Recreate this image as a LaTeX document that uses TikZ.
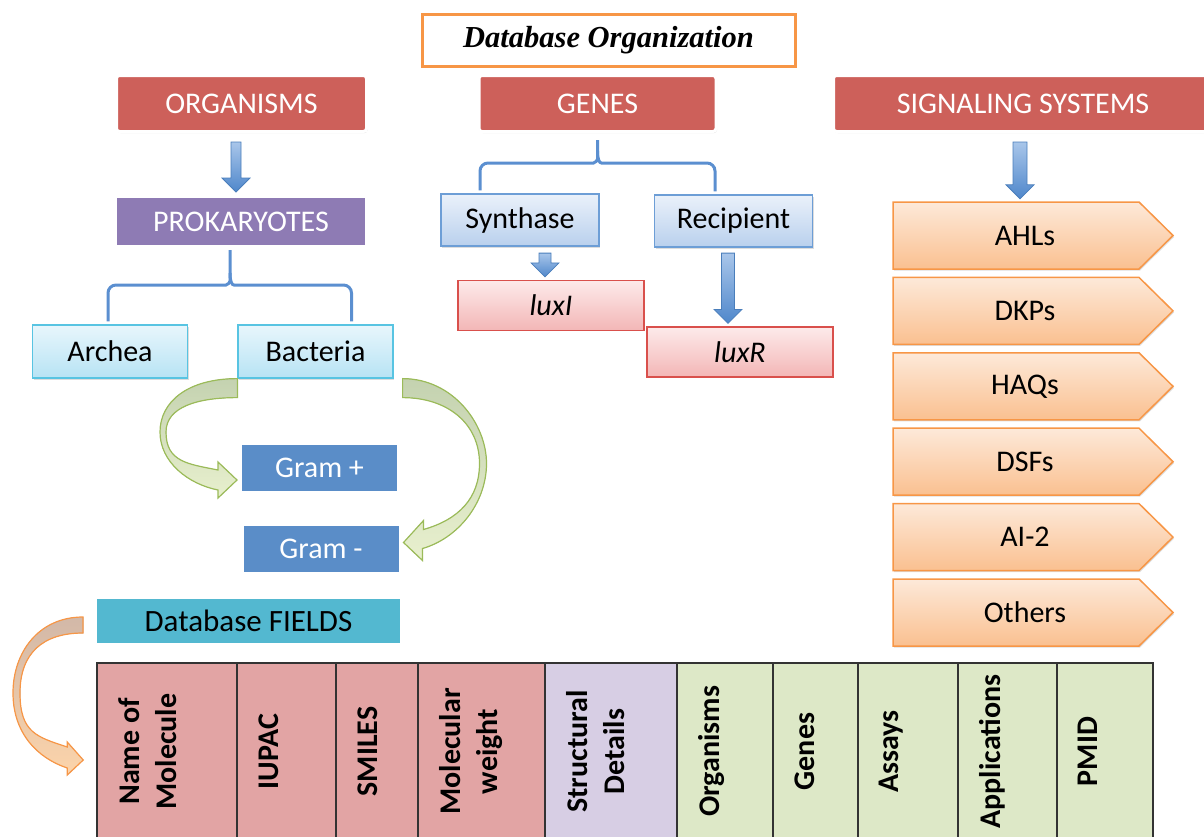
\documentclass[tikz,border=0pt]{standalone}
\usepackage{fontspec}
\setmainfont{Carlito}
\newfontfamily\titlefont{Liberation Serif}
\usetikzlibrary{calc,shadows}

\definecolor{hdred}{RGB}{205,96,90}
\definecolor{prkpurple}{RGB}{142,123,180}
\definecolor{archtop}{RGB}{232,246,252}
\definecolor{archbot}{RGB}{183,227,244}
\definecolor{archline}{RGB}{88,196,226}
\definecolor{syntop}{RGB}{234,241,250}
\definecolor{synbot}{RGB}{185,208,237}
\definecolor{synline}{RGB}{109,158,214}
\definecolor{luxtop}{RGB}{253,234,234}
\definecolor{luxbot}{RGB}{243,182,182}
\definecolor{luxline}{RGB}{217,80,76}
\definecolor{grblue}{RGB}{90,141,200}
\definecolor{fldteal}{RGB}{83,184,208}
\definecolor{pentop}{RGB}{253,233,217}
\definecolor{penbot}{RGB}{250,192,144}
\definecolor{penline}{RGB}{247,150,70}
\definecolor{arrtop}{RGB}{169,198,234}
\definecolor{arrbot}{RGB}{79,135,203}
\definecolor{arrline}{RGB}{74,126,187}
\definecolor{bracecol}{RGB}{91,143,208}
\definecolor{grntop}{RGB}{196,210,176}
\definecolor{grnbot}{RGB}{232,240,206}
\definecolor{grnline}{RGB}{155,187,89}
\definecolor{oratop}{RGB}{210,184,168}
\definecolor{orabot}{RGB}{252,212,170}
\definecolor{tabred}{RGB}{226,164,164}
\definecolor{tabpurple}{RGB}{215,206,228}
\definecolor{tabgreen}{RGB}{221,232,199}

\newcommand{\bigtxt}{\fontsize{30}{37}\selectfont}

\newcommand{\blockarrow}[3]{%
  \draw[bluearr] ($(#1)+(-#3,0)$) -- ($(#1 |- #2)+(-#3,-17)$) -- ($(#1 |- #2)+(-14,-17)$)
    -- ($(#1 |- #2)+(0,-3)$) -- ($(#1 |- #2)+(14,-17)$) -- ($(#1 |- #2)+(#3,-17)$)
    -- ($(#1)+(#3,0)$) -- cycle;}

\tikzset{
  boxshadow/.style={drop shadow={shadow xshift=1pt, shadow yshift=-1.5pt, opacity=.22, fill=black!60}},
  titlebox/.style={rectangle, draw=penline, line width=3, fill=white, minimum width=373, minimum height=52},
  header/.style={rectangle, rounded corners=3, fill=hdred, draw=white, line width=3, text=white,
    minimum height=56, font=\bigtxt, boxshadow},
  lightbox/.style={rectangle, top color=archtop, bottom color=archbot, draw=archline, line width=1.2,
    minimum width=155, minimum height=53, font=\bigtxt, boxshadow},
  synbox/.style={rectangle, top color=syntop, bottom color=synbot, draw=synline, line width=1.2,
    minimum width=158, minimum height=52, font=\bigtxt, boxshadow},
  luxbox/.style={rectangle, top color=luxtop, bottom color=luxbot, draw=luxline, line width=1.2,
    minimum width=186, minimum height=50, font=\bigtxt\itshape},
  grambox/.style={rectangle, fill=grblue, draw=white, line width=4, text=white,
    minimum width=159, minimum height=50, font=\bigtxt, boxshadow},
  fieldcol/.style={rectangle, draw=black!80, line width=1.5, minimum height=177},
  fieldtxt/.style={font=\bigtxt\bfseries, align=center, inner sep=0, rotate=90, anchor=north},
  sigbody/.style={minimum width=264, minimum height=67, inner sep=0, font=\bigtxt},
  pent/.style={top color=pentop, bottom color=penbot, draw=penline, line width=1.5, boxshadow},
  bluearr/.style={top color=arrtop, bottom color=arrbot, draw=arrline, line width=.8},
  brace/.style={draw=bracecol, line width=3, rounded corners=8},
  greenarr/.style={top color=grntop, bottom color=grnbot, draw=grnline, line width=1.2},
  orangearr/.style={top color=oratop, bottom color=orabot, draw=penline, line width=1.2}
}

\begin{document}
\begin{tikzpicture}[x=1pt,y=-1pt]
\useasboundingbox (0,0) rectangle (1204,836);
\clip (0,0) rectangle (1204,836);

\node[titlebox] (title) at (608.5,40) {\fontsize{30.5}{36}\selectfont\titlefont\bfseries\itshape Database Organization};

\node[header, minimum width=250] (org) at (241.5,103.5) {ORGANISMS};
\node[header, minimum width=237] (genes) at (597.5,103.5) {GENES};
\node[header, minimum width=379] (sig) at (1023,103.5) {SIGNALING SYSTEMS};

% organisms
\node[header, fill=prkpurple, rounded corners=0, minimum width=251, minimum height=50] (prok) at (241,221.5) {PROKARYOTES};
\node[lightbox] (arch) at (110,351.5) {Archea};
\node[lightbox] (bact) at (315.5,351.5) {Bacteria};
\node[grambox] (gplus) at (319.5,468) {Gram +};
\node[grambox] (gminus) at (321,548.5) {Gram -};

% genes
\node[synbox] (syn) at (520,220) {Synthase};
\node[synbox] (rec) at (733.5,221) {Recipient};
\node[luxbox] (luxi) at (551,305.5) {luxI};
\node[luxbox] (luxr) at (740,352) {luxR};

% signaling systems
\foreach \t [count=\i] in {AHLs,DKPs,HAQs,DSFs,AI-2,Others} {
  \coordinate (p\i) at (893,{202+75.4*(\i-1)});
  \filldraw[pent] (p\i) -- ++(246,0) -- ++(34,33.5) -- ++(-34,33.5) -- ++(-246,0) -- cycle;
  \node[sigbody] (s\i) at ($(p\i)+(132,33.5)$) {\t};
}

\coordinate (a1) at ($(org.south)+(-5.5,9)$);
\coordinate (a2) at ($(syn.south)+(25,6.5)$);
\coordinate (a3) at ($(rec.south)+(-5.5,5.5)$);
\coordinate (a4) at ($(sig.south)+(-3,9)$);
\blockarrow{a1}{prok.north}{5}
\blockarrow{a2}{luxi.north}{6}
\blockarrow{a3}{luxr.north}{6.5}
\blockarrow{a4}{s1.north}{7}

\draw[brace] ($(arch.north)+(-2,-3)$) |- ($(prok.south)+(-23,37)$) .. controls +(10,0) and +(0,9) .. ($(prok.south)+(-11,25)$) -- ($(prok.south)+(-11,2)$);
\draw[brace] ($(prok.south)+(-11,25)$) .. controls +(0,9) and +(-10,0) .. ($(prok.south)+(1,37)$) -| ($(bact.north)+(36,-3)$);
\draw[brace] ($(syn.north)+(-40,-3)$) |- ($(genes.south)+(-12,30)$) .. controls +(10,0) and +(0,9) .. ($(genes.south)+(0,18)$) -- ($(genes.south)+(0,7)$);
\draw[brace] ($(genes.south)+(0,18)$) .. controls +(0,9) and +(-10,0) .. ($(genes.south)+(12,30)$) -| ($(rec.north)+(-18.5,-3)$);

\filldraw[greenarr] (bact.south west) .. controls +(-50,0) and +(0,-30) .. ($(gplus.west)+(-78,-36)$)
  .. controls +(0,30) and +(-30,-6) .. ($(gplus.west)+(-20,22)$) -- ++(0,8) -- ($(gplus.west)+(-1,12)$)
  -- ++(-19,-18) -- ++(0,8) .. controls +(-30,-6) and +(0,30) .. ($(gplus.west)+(-72,-36)$)
  .. controls +(0,-25) and +(-40,0) .. ($(bact.south west)+(0,19)$) -- cycle;
\filldraw[greenarr] ($(bact.south east)+(9,0)$) .. controls +(50,0) and +(0,-40) .. ($(gminus.east)+(84,-85)$)
  .. controls +(0,40) and +(35,-10) .. ($(gminus.east)+(20,0)$) -- ++(0,12) -- ($(gminus.east)+(1,-6)$)
  -- ++(20,-22) -- ++(0,9) .. controls +(35,-10) and +(0,35) .. ($(gminus.east)+(77,-85)$)
  .. controls +(0,-40) and +(45,0) .. ($(bact.south east)+(9,19)$) -- cycle;

% database fields
\node[header, fill=fldteal, text=black, rounded corners=0, minimum width=306, minimum height=47, font=\fontsize{31}{37}\selectfont] (fields) at (248.5,621) {Database FIELDS};

\foreach \xl/\xr/\col/\txt [count=\i] in {97/237/tabred/{Name of\\Molecule}, 237/336/tabred/IUPAC,
    336/418/tabred/SMILES, 418/545/tabred/{Molecular\\weight}, 545/677/tabpurple/{Structural\\Details},
    677/773/tabgreen/Organisms, 773/858/tabgreen/Genes, 858/958/tabgreen/Assays,
    958/1057/tabgreen/Applications, 1057/1153/tabgreen/PMID} {
  \node[fieldcol, fill=\col, minimum width={\xr-\xl}] (f\i) at ({(\xl+\xr)/2},751.5) {};
  \node[fieldtxt] (t\i) at ($(f\i.west)+(22,0)$) {\txt};
}

\filldraw[orangearr] ($(fields.west)+(-11,-4)$) .. controls +(-45,0) and +(0,-40) .. ($(fields.west)+(-81,72)$)
  .. controls +(0,40) and +(-30,-10) .. ($(f1.west)+(-29,16.5)$) -- ++(0,7) -- ($(f1.west)+(-13,8.5)$)
  -- ++(-16,-18) -- ++(0,5) .. controls +(-30,-10) and +(0,40) .. ($(fields.west)+(-74,72)$)
  .. controls +(0,-40) and +(-40,0) .. ($(fields.west)+(-11,12)$) -- cycle;
\end{tikzpicture}
\end{document}
